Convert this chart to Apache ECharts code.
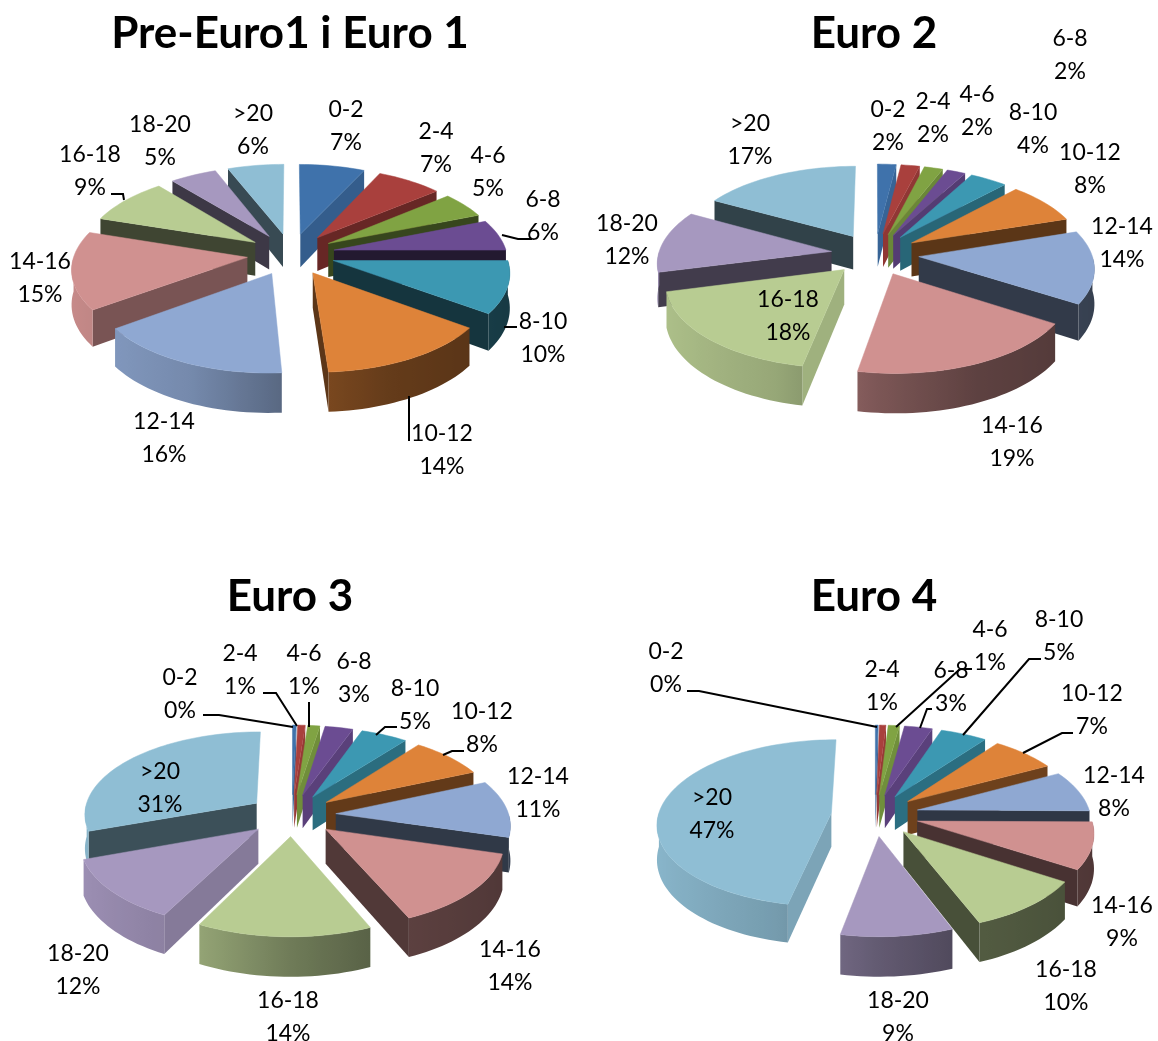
<!DOCTYPE html>
<html>
<head>
<meta charset="utf-8">
<style>html,body{margin:0;padding:0;background:#fff}#c{width:1158px;height:1041px}</style>
<script src="https://cdn.jsdelivr.net/npm/echarts@6/dist/echarts.min.js"></script>
</head>
<body>
<div id="c"></div>
<script>
// ---- data ----
const categories = ['0-2','2-4','4-6','6-8','8-10','10-12','12-14','14-16','16-18','18-20','>20'];
const titles = ['Pre-Euro1 i Euro 1','Euro 2','Euro 3','Euro 4'];
const euro1Values = [7,7,5,6,10,14,16,15,9,5,6];
const euro2Values = [2,2,2,2,4,8,14,19,18,12,17];
const euro3Values = [0.4,0.8,1.3,3,5,8,11,14,14,12,30.5];
const euro4Values = [0.3,0.7,1.2,3,5,7,8,9,10,9,47];
const allValues = [euro1Values,euro2Values,euro3Values,euro4Values];

// ---- layout and style ----
const colors = ['#3F72AB','#A9403D','#80A343','#6B4C92','#3C98B2','#DE8339','#8FA8D2','#D09190','#B8CC92','#A698BF','#8FBED4'];
const centers = [[291,254],[875,254],[292,815],[875,815]];
const titleCenters = [[285,4],[869,4],[285,567],[869,567]];
const RX = 173, RY = 82.5, EXPLODE = 0.254, PERSP = 0.12, DEPTH = 34;
const labelAt = [
 [[346,126],[436,148],[488,172],[543,216],[543,338],[442,450],[164,438],[40,278],[90,171],[160,141],[253,130]],
 [[888,126],[933,118],[977,111],[1070,55],[1033,129],[1090,169],[1122,243],[1012,442],[788,316],[627,240],[750,140]],
 [[180,694],[240,670],[304,670],[354,678],[415,705],[482,728],[538,793],[510,966],[288,1017],[78,970],[160,788]],
 [[666,668],[882,686],[990,646],[951,687],[1059,636],[1092,710],[1114,792],[1122,922],[1066,986],[898,1017],[712,814]]
];
const leaders = [
 [[[502,235],[518,239],[532,239]],[[504,327],[517,327]],[[409,396],[409,441]],[[111,194],[123,194],[124,200]]],
 [],
 [[[203,715],[219,715],[293,727]],[[263,693],[276,693],[297,726]],[[309,702],[309,727]],[[397,727],[385,727],[376,735]],[[464,751],[452,751],[443,755]]],
 [[[687,691],[699,691],[877,727]],[[972,669],[960,669],[896,727]],[[932,709],[927,709],[920,728]],[[1041,659],[1029,659],[963,735]],[[1073,733],[1062,733],[1023,753]]]
];
const FONT = 'Lato, Carlito, "Open Sans", sans-serif';

function shade(hex,f){
  const n=parseInt(hex.slice(1),16);
  const c=[(n>>16)&255,(n>>8)&255,n&255].map(v=>Math.min(255,Math.round(v*f)));
  return 'rgb('+c.join(',')+')';
}
function interp(tbl,x){
  if(x<=tbl[0][0])return tbl[0][1];
  for(let i=1;i<tbl.length;i++){
    if(x<=tbl[i][0]){const a=tbl[i-1],b=tbl[i];return a[1]+(b[1]-a[1])*(x-a[0])/(b[0]-a[0]);}
  }
  return tbl[tbl.length-1][1];
}
const radialShade=[[90,.9],[115,.82],[144,.58],[158,.43],[180,.33],[216,.35],[270,.42],[360,.42]];
const wallShade=[[-1.2,.95],[-.5,.82],[0,.6],[.5,.45],[1.2,.38]];

function makeRender(p){
  const values=allValues[p], c=centers[p];
  const total=values.reduce((a,b)=>a+b,0);
  const project=(X,Y,drop)=>{const s=1/(1-PERSP*Y);return [c[0]+RX*X*s,c[1]+RY*Y*s+drop*s];};
  return function(params,api){
    const i=api.value(0), v=api.value(1);
    let before=0; for(let k=0;k<i;k++)before+=values[k];
    const a0=before/total*360, a1=(before+v)/total*360, mid=(a0+a1)/2;
    const rad=d=>d*Math.PI/180;
    const ax=EXPLODE*Math.sin(rad(mid)), ay=-EXPLODE*Math.cos(rad(mid));
    const outerW=d=>[ax+Math.sin(rad(d)),ay-Math.cos(rad(d))];
    const base=colors[i];
    const z=Math.round((ay+2)*1000);
    const kids=[];
    const steps=d0=>d1=>{const n=Math.max(2,Math.ceil((d1-d0)/2));const o=[];for(let k=0;k<=n;k++)o.push(d0+(d1-d0)*k/n);return o;};
    const radialWall=(d,normal)=>{
      const w=outerW(d);
      kids.push({type:'polygon',z2:z,silent:true,
        shape:{points:[project(ax,ay,0),project(w[0],w[1],0),project(w[0],w[1],DEPTH),project(ax,ay,DEPTH)]},
        style:{fill:shade(base,interp(radialShade,normal))}});
    };
    if(Math.sin(rad(a0))<-0.001) radialWall(a0,a0-90);
    if(Math.sin(rad(a1))>0.001) radialWall(a1,a1+90);
    const f0=Math.max(a0,90), f1=Math.min(a1,270);
    if(f1>f0){
      const ds=steps(f0)(f1);
      const top=ds.map(d=>{const w=outerW(d);return project(w[0],w[1],0);});
      const bot=ds.map(d=>{const w=outerW(d);return project(w[0],w[1],DEPTH);}).reverse();
      const xs=top.map(q=>q[0]);
      const minX=Math.min.apply(null,xs), maxX=Math.max.apply(null,xs), span=Math.max(1,maxX-minX);
      const stops=ds.map((d,k)=>({offset:(xs[k]-minX)/span,color:shade(base,interp(wallShade,outerW(d)[0]))})).sort((m,n)=>m.offset-n.offset);
      kids.push({type:'polygon',z2:z+1,silent:true,shape:{points:top.concat(bot)},
        style:{fill:new echarts.graphic.LinearGradient(0,0,1,0,stops)}});
    }
    const arc=steps(a0)(a1).map(d=>{const w=outerW(d);return project(w[0],w[1],0);});
    kids.push({type:'polygon',z2:z+2,silent:true,shape:{points:[project(ax,ay,0)].concat(arc)},
      style:{fill:base,stroke:base,lineWidth:0.5}});
    const at=labelAt[p][i];
    kids.push({type:'text',z2:9000,silent:true,x:at[0],y:at[1],
      style:{text:categories[i]+'\n'+Math.round(v)+'%',fill:'#000',font:'23px '+FONT,lineHeight:33,align:'center',verticalAlign:'middle'}});
    if(i===0){
      leaders[p].forEach(L=>kids.push({type:'polyline',z2:8999,silent:true,shape:{points:L},style:{fill:null,stroke:'#000',lineWidth:2}}));
    }
    return {type:'group',children:kids};
  };
}

const chart=echarts.init(document.getElementById('c'),null,{renderer:'canvas'});
chart.setOption({
  backgroundColor:'#fff',
  animation:false,
  title:titles.map((t,i)=>({text:t,left:titleCenters[i][0],top:titleCenters[i][1],textAlign:'center',
    textStyle:{fontFamily:FONT,fontWeight:'bold',fontSize:44,color:'#000',lineHeight:50}})),
  series:allValues.map((vals,p)=>({
    type:'custom',name:titles[p],coordinateSystem:'none',silent:true,clip:false,
    data:vals.map((v,i)=>[i,v]),
    renderItem:makeRender(p)
  }))
});
</script>
</body>
</html>
